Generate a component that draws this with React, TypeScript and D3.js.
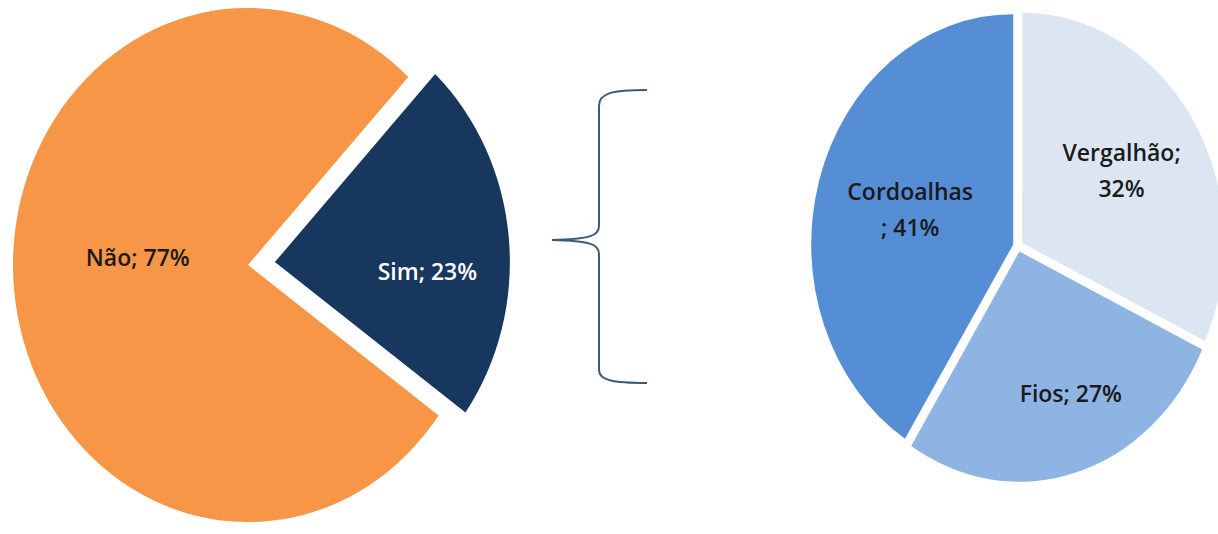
import * as d3 from 'd3';
import { useRef, useEffect } from 'react';

// left pie: "did you use ..." answers
const answerCategories = ['Sim', 'Não'];
const answerValues = [23, 77];
const answerColors = ['#17375E', '#F79646'];

// right pie: breakdown of "Sim"
const productCategories = ['Vergalhão', 'Fios', 'Cordoalhas'];
const productValues = [32, 27, 41];
const productColors = ['#DCE6F2', '#8EB4E3', '#558ED5'];
// how Excel wrapped the labels
const productLabelLines = [
  ['Vergalhão;', '32%'],
  ['Fios; 27%'],
  ['Cordoalhas', '; 41%'],
];

const deg = Math.PI / 180;

export default function App() {
  const svgRef = useRef<SVGSVGElement | null>(null);

  useEffect(() => {
    const width = 1218;
    const height = 534;
    const font = '"Open Sans", sans-serif';

    const svg = d3.select(svgRef.current)
      .attr('width', width)
      .attr('height', height);
    svg.selectAll('*').remove();

    // ---- left pie ----
    const lr = 235;
    const lsy = 1.094; // picture is a little taller than wide
    const lcx = 248;
    const lcy = 265;

    const leftPie = d3.pie<number>()
      .sort(null)
      .startAngle(43 * deg)
      .endAngle(43 * deg + 2 * Math.PI)
      .value((d) => d);
    const leftData = leftPie(answerValues);
    const leftArc = d3.arc<d3.PieArcDatum<number>>().innerRadius(0).outerRadius(lr);

    const left = svg.append('g');
    leftData.forEach((d, i) => {
      const mid = (d.startAngle + d.endAngle) / 2;
      const explode = i === 0 ? 27 : 0;
      const ox = Math.sin(mid) * explode;
      const oy = -Math.cos(mid) * explode * lsy;
      left.append('path')
        .attr('d', leftArc(d))
        .attr('fill', answerColors[i])
        .attr('transform', `translate(${lcx + ox},${lcy + oy}) scale(1,${lsy})`);

      // Excel's best-fit label position
      const la = mid + 9 * deg;
      const lrad = d.value > 50 ? 0.47 * lr : 0.65 * lr;
      const tx = lcx + ox + Math.sin(la) * lrad;
      const ty = lcy + oy - Math.cos(la) * lrad * lsy;
      left.append('text')
        .attr('x', tx)
        .attr('y', ty)
        .attr('dy', '0.35em')
        .attr('text-anchor', 'middle')
        .attr('font-family', font)
        .attr('font-weight', 600)
        .attr('font-size', 23)
        .attr('fill', i === 0 ? '#ffffff' : '#1a1a1a')
        .text(`${answerCategories[i]}; ${d.value}%`);
    });

    // ---- brace ----
    svg.append('path')
      .attr('d', 'M647,90 C612,90 599,93 599,106 L599,226 C599,236 590,239 552,240 C590,241 599,244 599,254 L599,370 C599,380 612,383 647,383')
      .attr('fill', 'none')
      .attr('stroke', '#3E5A7A')
      .attr('stroke-width', 2);

    // ---- right pie ----
    const rr = 202;
    const rsy = 1.14;
    const rcx = 1018;
    const rcy = 246;

    const rightPie = d3.pie<number>().sort(null).value((d) => d);
    const rightData = rightPie(productValues);
    const rightArc = d3.arc<d3.PieArcDatum<number>>().innerRadius(0).outerRadius(rr);

    const right = svg.append('g');
    rightData.forEach((d, i) => {
      const mid = (d.startAngle + d.endAngle) / 2;
      const explode = 5;
      const ox = Math.sin(mid) * explode;
      const oy = -Math.cos(mid) * explode * rsy;
      right.append('path')
        .attr('d', rightArc(d))
        .attr('fill', productColors[i])
        .attr('transform', `translate(${rcx + ox},${rcy + oy}) scale(1,${rsy})`);

      const lrad = rr * (0.5 + 0.2 * Math.abs(Math.cos(mid)));
      const la = mid - (Math.cos(mid) < -0.9 ? 6 * deg : 0);
      const tx = rcx + Math.sin(la) * lrad;
      const ty = rcy - Math.cos(la) * lrad * rsy;
      const lines = productLabelLines[i];
      const lh = 36;
      const t = right.append('text')
        .attr('text-anchor', 'middle')
        .attr('font-family', font)
        .attr('font-weight', 600)
        .attr('font-size', 23)
        .attr('fill', '#1a1a1a');
      lines.forEach((line, j) => {
        t.append('tspan')
          .attr('x', tx)
          .attr('y', ty + (j - (lines.length - 1) / 2) * lh)
          .attr('dy', '0.35em')
          .text(line);
      });
    });
    void productCategories;
  }, []);

  return (
    <div style={{ position: 'absolute', left: 0, top: 0 }}>
      <svg ref={svgRef} style={{ display: 'block' }}></svg>
    </div>
  );
}
